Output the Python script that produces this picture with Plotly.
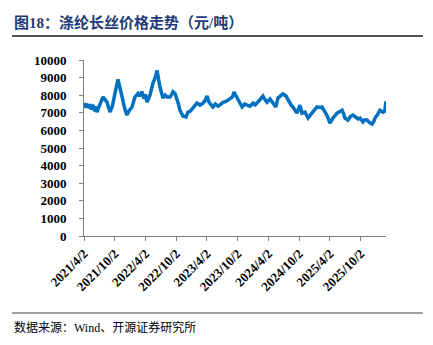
import plotly.graph_objects as go

# ---- data ----
dates = [
    "2021-04-02", "2021-04-10", "2021-04-18", "2021-04-28", "2021-05-08", "2021-05-16", "2021-05-24",
    "2021-06-01", "2021-06-06", "2021-06-12", "2021-06-18", "2021-06-26", "2021-07-05", "2021-07-18",
    "2021-07-24", "2021-08-05", "2021-08-17", "2021-08-26", "2021-09-03", "2021-09-10",
    "2021-09-18", "2021-10-03", "2021-10-14", "2021-10-21", "2021-11-02", "2021-11-20",
    "2021-12-01", "2021-12-13", "2021-12-25", "2022-01-12", "2022-01-22", "2022-01-30",
    "2022-02-17", "2022-02-26", "2022-03-13", "2022-03-24", "2022-04-02", "2022-04-11",
    "2022-04-20", "2022-04-29", "2022-05-17", "2022-05-30", "2022-06-10", "2022-06-18",
    "2022-06-27", "2022-07-15", "2022-07-28", "2022-08-08", "2022-08-26", "2022-09-05",
    "2022-09-13", "2022-09-25", "2022-10-06", "2022-10-15", "2022-10-24", "2022-11-11",
    "2022-11-29", "2022-12-11", "2022-12-25", "2023-01-09", "2023-01-20", "2023-02-02",
    "2023-02-20", "2023-03-10", "2023-03-22", "2023-04-03", "2023-04-14", "2023-04-25",
    "2023-05-08", "2023-05-22", "2023-06-07", "2023-06-20", "2023-07-07", "2023-07-25",
    "2023-08-17", "2023-09-01", "2023-09-10", "2023-09-22", "2023-10-04", "2023-10-16",
    "2023-10-28", "2023-11-12", "2023-11-26", "2023-12-14", "2024-01-02", "2024-01-14",
    "2024-01-25", "2024-02-10", "2024-02-23", "2024-02-29", "2024-03-12", "2024-03-24",
    "2024-04-11", "2024-04-20", "2024-04-29", "2024-05-16", "2024-05-28", "2024-06-10",
    "2024-06-27", "2024-07-15", "2024-08-02", "2024-08-14", "2024-08-25", "2024-09-05",
    "2024-09-18", "2024-10-06", "2024-10-18", "2024-11-05", "2024-11-14", "2024-11-23",
    "2024-12-05", "2024-12-16", "2025-01-01", "2025-01-15", "2025-02-01", "2025-02-14",
    "2025-03-04", "2025-03-18", "2025-04-02", "2025-04-10", "2025-04-20", "2025-05-14",
    "2025-05-28", "2025-06-13", "2025-06-22", "2025-06-30", "2025-07-18", "2025-08-03",
    "2025-08-17", "2025-09-01", "2025-09-16", "2025-09-28", "2025-10-15", "2025-10-26",
    "2025-11-08", "2025-11-22", "2025-12-08", "2025-12-18", "2025-12-26", "2026-01-10",
    "2026-01-24", "2026-02-11", "2026-02-22", "2026-03-01",
]
prices = [
    7550, 7300, 7500, 7350, 7400, 7200, 7450,
    7300, 7100, 7350, 7040, 7250, 7500, 7720,
    7900, 7750, 7600, 7300, 7040, 7200,
    7400, 8100, 8600, 8900, 8400, 7600,
    7200, 6870, 7100, 7330, 7600, 7900,
    8100, 7950, 8200, 7800, 8050, 7600,
    7800, 8000, 8700, 9000, 9400, 8800,
    8470, 7840, 8000, 7900, 7900, 8050,
    8200, 8100, 7840, 7500, 7150, 6800,
    6760, 7040, 7100, 7270, 7400, 7550,
    7440, 7550, 7700, 7950, 7600, 7450,
    7330, 7500, 7380, 7450, 7600, 7650,
    7780, 7900, 8180, 7950, 7720, 7500,
    7330, 7500, 7440, 7380, 7550, 7450,
    7550, 7750, 7900, 7950, 7750, 7600,
    7780, 7650, 7550, 7330, 7840, 7950,
    8070, 7950, 7600, 7450, 7330, 7150,
    6980, 7440, 6980, 7040, 6850, 6700,
    6850, 6980, 7150, 7330, 7300, 7330,
    7040, 6800, 6420, 6550, 6700, 6980,
    7050, 7150, 6950, 6700, 6590, 6800,
    6870, 6750, 6650, 6700, 6480, 6600,
    6590, 6450, 6360, 6500, 6700, 6900,
    7150, 7040, 7100, 7660,
]
tick_vals = ["2021-04-02", "2021-10-02", "2022-04-02", "2022-10-02", "2023-04-02",
             "2023-10-02", "2024-04-02", "2024-10-02", "2025-04-02", "2025-10-02"]
tick_text = ["2021/4/2", "2021/10/2", "2022/4/2", "2022/10/2", "2023/4/2",
             "2023/10/2", "2024/4/2", "2024/10/2", "2025/4/2", "2025/10/2"]
y_ticks = [0, 1000, 2000, 3000, 4000, 5000, 6000, 7000, 8000, 9000, 10000]
y_tick_text = ["0", "1000", "2000", "3000", "4000", "5000", "6000", "7000", "8000", "9000", "10000"]

title_text = "图18：涤纶长丝价格走势（元/吨）"
source_text = "数据来源：Wind、开源证券研究所"

# ---- figure ----
W, H = 433, 345
L, R, T, B = 84, 47, 60, 109
pw, ph = W - L - R, H - T - B

def px_x(x):
    return (x - L) / pw

def px_y(y):
    return (H - B - y) / ph

fig = go.Figure()
fig.add_trace(go.Scatter(
    x=dates, y=prices, mode="lines",
    line=dict(color="#0070C0", width=3.5),
    hoverinfo="skip",
))

tick_font = dict(family="Liberation Serif, Times New Roman, serif", size=13,
                 color="#000000", weight="bold")

fig.update_layout(
    width=W, height=H,
    margin=dict(l=L, r=R, t=T, b=B),
    paper_bgcolor="white", plot_bgcolor="white",
    showlegend=False,
    xaxis=dict(
        type="date", range=["2021-04-02", "2026-03-01"],
        tickmode="array", tickvals=tick_vals, ticktext=tick_text,
        tickangle=-45, tickfont=tick_font,
        showgrid=False, zeroline=False,
        showline=True, linecolor="#808080", linewidth=1,
        ticks="outside", ticklen=4, tickcolor="#808080",
    ),
    yaxis=dict(
        range=[0, 10000], tickmode="array", tickvals=y_ticks, ticktext=y_tick_text,
        tickfont=tick_font, ticklabelstandoff=10,
        showgrid=False, zeroline=False,
        showline=True, linecolor="#808080", linewidth=1,
        ticks="outside", ticklen=4, tickcolor="#808080",
    ),
)

fig.add_annotation(
    text=title_text, xref="paper", yref="paper",
    x=px_x(12), y=px_y(22), xanchor="left", yanchor="middle",
    showarrow=False,
    font=dict(family="Liberation Serif, Noto Sans CJK SC", size=15, color="#1F3A78", weight="bold"),
)
fig.add_shape(type="line", xref="paper", yref="paper",
              x0=px_x(12), x1=px_x(423), y0=px_y(36), y1=px_y(36),
              line=dict(color="#1a1a1a", width=1.5))
fig.add_shape(type="line", xref="paper", yref="paper",
              x0=px_x(12), x1=px_x(423), y0=px_y(313), y1=px_y(313),
              line=dict(color="#808080", width=1.5))
fig.add_annotation(
    text=source_text, xref="paper", yref="paper",
    x=px_x(12), y=px_y(327), xanchor="left", yanchor="middle",
    showarrow=False,
    font=dict(family="Liberation Serif, Noto Sans CJK SC", size=12, color="#000000"),
)

fig.write_html("out.html")
